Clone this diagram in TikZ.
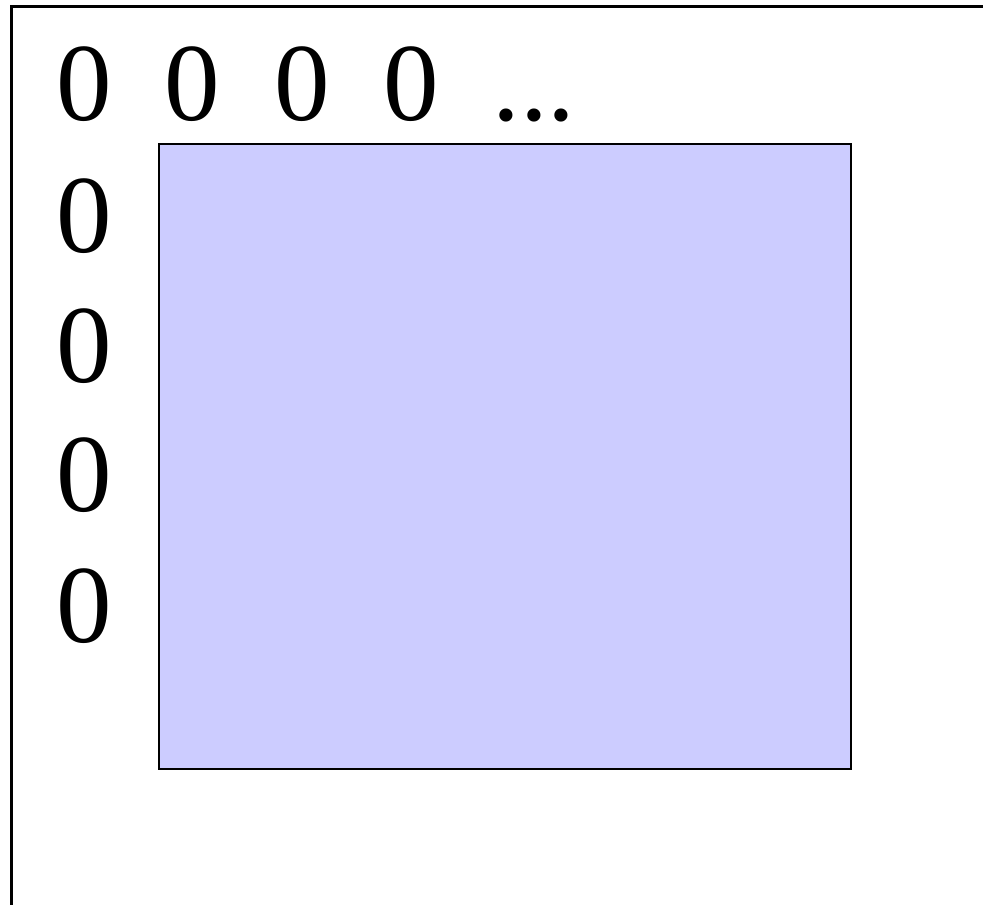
\documentclass[tikz,border=0pt]{standalone}
\usepackage{fontspec}
\setmainfont{Liberation Serif}
\definecolor{boxfill}{HTML}{CCCCFF}
\begin{document}
\begin{tikzpicture}[x=1pt,y=-1pt,
  zero/.style={inner sep=0pt,anchor=base,font=\fontsize{111}{111}\selectfont},
  frame/.style={draw=black,line width=3pt},
  matbox/.style={draw=black,line width=2.5pt,fill=boxfill}]
\useasboundingbox (0,0) rectangle (983,905);
\coordinate (fbl) at (11.5,905);
\coordinate (ftl) at (11.5,6.5);
\coordinate (ftr) at (983,6.5);
\draw[frame] (fbl) -- (ftl) -- (ftr);
\draw[matbox] (159,144) rectangle (851,769);
\node[zero] (t1) at (84.5,120) {0};
\node[zero] (t2) at (192.5,120) {0};
\node[zero] (t3) at (302.5,120) {0};
\node[zero] (t4) at (411.5,120) {0};
\node[zero] (dots) at (534,120) {...};
\node[zero] (l1) at (84.5,252) {0};
\node[zero] (l2) at (84.5,382) {0};
\node[zero] (l3) at (84.5,511) {0};
\node[zero] (l4) at (84.5,642) {0};
\end{tikzpicture}
\end{document}
